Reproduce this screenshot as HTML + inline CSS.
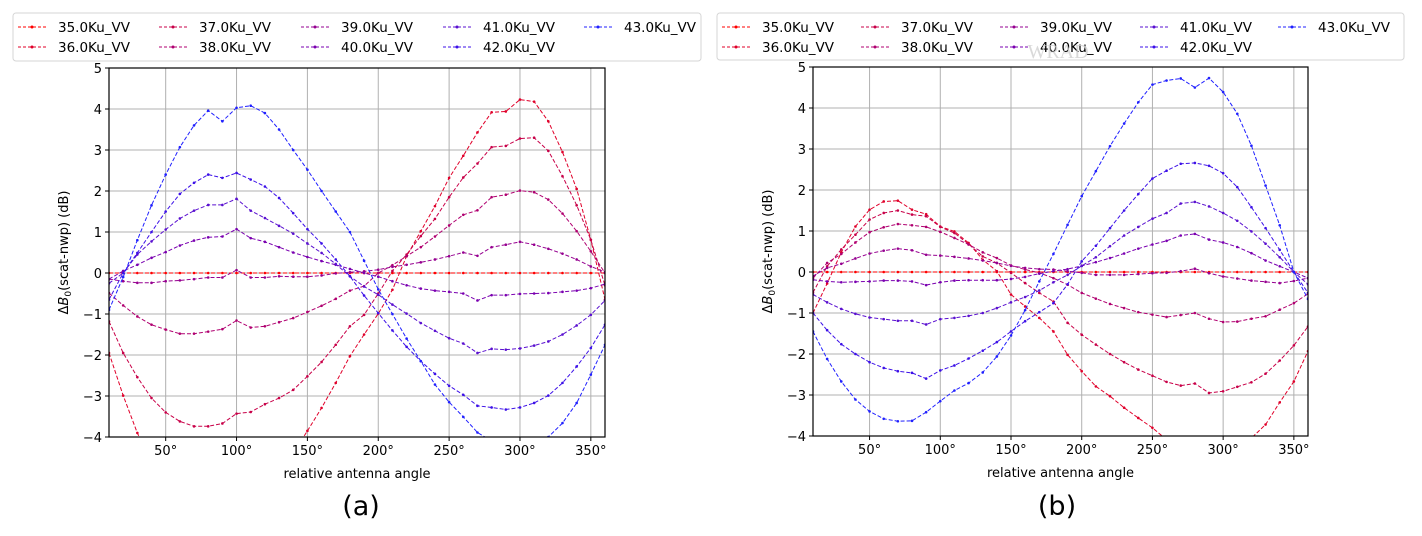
<!DOCTYPE html>
<html><head><meta charset="utf-8">
<style>
html,body{margin:0;padding:0;background:#fff;}
svg{display:block;font-family:"DejaVu Sans","Liberation Sans",sans-serif;}
</style></head>
<body>
<svg id="fig" width="1422" height="536" viewBox="0 0 1422 536" xmlns="http://www.w3.org/2000/svg">
</svg>
<script>
const angles = [10,20,30,40,50,60,70,80,90,100,110,120,130,140,150,160,170,180,190,200,210,220,230,240,250,260,270,280,290,300,310,320,330,340,350,360];
const seriesNames = ["35.0Ku_VV","36.0Ku_VV","37.0Ku_VV","38.0Ku_VV","39.0Ku_VV","40.0Ku_VV","41.0Ku_VV","42.0Ku_VV","43.0Ku_VV"];
const xTicks = [50,100,150,200,250,300,350];
const yTicks = [-4,-3,-2,-1,0,1,2,3,4,5];
const A35 = [0,0,0,0,0,0,0,0,0,0,0,0,0,0,0,0,0,0,0,0,0,0,0,0,0,0,0,0,0,0,0,0,0,0,0,0];
const A36 = [-1.95,-2.99,-3.9,-4.6,-5.1,-5.4,-5.6,-5.6,-5.5,-5.3,-5.2,-5.0,-4.8,-4.4,-3.85,-3.29,-2.68,-2.03,-1.5,-0.99,-0.41,0.41,1.02,1.63,2.32,2.86,3.43,3.92,3.94,4.23,4.18,3.7,2.95,2.05,0.81,-0.65];
const A37 = [-1.18,-1.95,-2.54,-3.05,-3.4,-3.62,-3.74,-3.74,-3.67,-3.43,-3.39,-3.2,-3.05,-2.85,-2.52,-2.17,-1.75,-1.3,-1.02,-0.5,0.05,0.45,0.9,1.32,1.85,2.33,2.67,3.07,3.1,3.28,3.3,2.98,2.36,1.65,0.81,-0.3];
const A38 = [-0.49,-0.79,-1.06,-1.26,-1.38,-1.48,-1.48,-1.43,-1.37,-1.16,-1.33,-1.3,-1.2,-1.1,-0.95,-0.8,-0.63,-0.43,-0.32,0,0.19,0.41,0.63,0.89,1.16,1.42,1.53,1.85,1.91,2.01,1.97,1.79,1.45,1.02,0.53,0.0];
const A39 = [-0.15,-0.2,-0.24,-0.24,-0.2,-0.18,-0.15,-0.11,-0.11,0.07,-0.11,-0.11,-0.08,-0.09,-0.09,-0.06,-0.01,0.02,0.04,0.08,0.15,0.2,0.26,0.33,0.41,0.5,0.42,0.63,0.69,0.76,0.69,0.59,0.47,0.33,0.16,0.02];
const A40 = [-0.15,0.05,0.2,0.37,0.51,0.67,0.79,0.87,0.89,1.07,0.85,0.76,0.63,0.5,0.39,0.29,0.2,0.1,0,-0.09,-0.2,-0.3,-0.38,-0.43,-0.46,-0.5,-0.67,-0.54,-0.54,-0.51,-0.5,-0.49,-0.46,-0.43,-0.37,-0.27];
const A41 = [-0.25,0.0,0.45,0.77,1.06,1.33,1.52,1.66,1.66,1.81,1.52,1.34,1.15,0.96,0.72,0.49,0.22,-0.08,-0.33,-0.53,-0.77,-0.99,-1.22,-1.41,-1.59,-1.72,-1.95,-1.85,-1.87,-1.84,-1.77,-1.67,-1.5,-1.28,-1.02,-0.67];
const A42 = [-0.65,0.0,0.49,1.0,1.5,1.93,2.2,2.4,2.32,2.44,2.28,2.11,1.83,1.46,1.07,0.72,0.33,-0.08,-0.55,-0.98,-1.4,-1.8,-2.15,-2.46,-2.75,-2.97,-3.24,-3.28,-3.33,-3.28,-3.17,-2.99,-2.68,-2.28,-1.83,-1.26];
const A43 = [-0.9,-0.1,0.8,1.65,2.4,3.07,3.6,3.96,3.7,4.03,4.08,3.9,3.5,3.0,2.52,2.0,1.5,1.0,0.3,-0.4,-1.0,-1.6,-2.15,-2.72,-3.15,-3.51,-3.89,-4.1,-4.3,-4.4,-4.3,-4.0,-3.66,-3.17,-2.48,-1.75];
const B35 = [0,0,0,0,0,0,0,0,0,0,0,0,0,0,0,0,0,0,0,0,0,0,0,0,0,0,0,0,0,0,0,0,0,0,0,0];
const B36 = [-1.0,-0.28,0.48,1.11,1.52,1.72,1.74,1.52,1.41,1.11,0.99,0.71,0.3,0.02,-0.55,-0.84,-1.12,-1.45,-2.02,-2.42,-2.79,-3.03,-3.31,-3.56,-3.8,-4.09,-4.3,-4.5,-4.6,-4.5,-4.3,-4.05,-3.72,-3.18,-2.67,-1.93];
const B37 = [-0.5,0.14,0.55,0.91,1.28,1.44,1.5,1.4,1.36,1.1,0.95,0.68,0.38,0.22,-0.02,-0.27,-0.51,-0.72,-1.24,-1.53,-1.77,-2.0,-2.2,-2.38,-2.53,-2.68,-2.77,-2.72,-2.95,-2.91,-2.8,-2.69,-2.48,-2.16,-1.79,-1.33];
const B38 = [-0.15,0.22,0.44,0.72,0.97,1.09,1.17,1.14,1.1,0.98,0.83,0.67,0.48,0.34,0.16,0.06,-0.02,-0.15,-0.31,-0.51,-0.65,-0.78,-0.88,-0.98,-1.04,-1.1,-1.05,-1.0,-1.14,-1.22,-1.21,-1.14,-1.08,-0.92,-0.76,-0.53];
const B39 = [-0.1,0.1,0.2,0.33,0.45,0.52,0.57,0.53,0.42,0.4,0.37,0.33,0.28,0.22,0.15,0.1,0.07,0.06,0.02,-0.02,-0.07,-0.07,-0.07,-0.05,-0.03,-0.02,0.02,0.08,-0.03,-0.11,-0.16,-0.21,-0.24,-0.27,-0.22,-0.15];
const B40 = [-0.19,-0.23,-0.25,-0.24,-0.23,-0.21,-0.21,-0.23,-0.32,-0.25,-0.21,-0.2,-0.2,-0.2,-0.17,-0.12,-0.04,0.02,0.07,0.15,0.24,0.34,0.45,0.57,0.67,0.76,0.89,0.93,0.79,0.72,0.61,0.46,0.28,0.14,0,-0.15];
const B41 = [-0.55,-0.74,-0.9,-1.02,-1.11,-1.15,-1.19,-1.19,-1.28,-1.15,-1.12,-1.07,-1.0,-0.88,-0.74,-0.61,-0.45,-0.25,-0.07,0.15,0.36,0.63,0.89,1.1,1.3,1.44,1.67,1.71,1.6,1.44,1.25,0.99,0.69,0.36,0,-0.3];
const B42 = [-1.0,-1.42,-1.76,-2.0,-2.2,-2.34,-2.42,-2.46,-2.6,-2.4,-2.28,-2.11,-1.92,-1.71,-1.45,-1.2,-0.98,-0.76,-0.3,0.26,0.64,1.07,1.5,1.9,2.28,2.47,2.64,2.66,2.59,2.41,2.07,1.58,1.07,0.54,0,-0.51];
const B43 = [-1.45,-2.12,-2.67,-3.11,-3.4,-3.58,-3.64,-3.63,-3.42,-3.15,-2.89,-2.71,-2.45,-2.06,-1.55,-0.93,-0.23,0.44,1.15,1.85,2.46,3.07,3.62,4.14,4.57,4.67,4.72,4.5,4.73,4.39,3.86,3.08,2.11,1.14,0,-0.66];

const seriesA = [A35,A36,A37,A38,A39,A40,A41,A42,A43];
const seriesB = [B35,B36,B37,B38,B39,B40,B41,B42,B43];
const colors = ["#ff0000","#e0002a","#c80048","#b00070","#960090","#7a00b0","#5a10d0","#3c10e8","#2020ff"];

const NS = "http://www.w3.org/2000/svg";
const svg = document.getElementById('fig');
function mk(tag, attrs, parent){
  const e = document.createElementNS(NS, tag);
  for (const k in attrs) e.setAttribute(k, attrs[k]);
  (parent||svg).appendChild(e);
  return e;
}

function drawPanel(id, L, R, T, B, data, legendBox, legendCols, panelLabel, panelX){
  const xMin = 10, xMax = 360, yMin = -4, yMax = 5;
  const xs = v => L + (v - xMin) / (xMax - xMin) * (R - L);
  const ys = v => B - (v - yMin) / (yMax - yMin) * (B - T);
  const g = mk('g', {});
  
  
  const clip = mk('clipPath', {id: 'clip' + id}, g);
  mk('rect', {x: L, y: T, width: R - L, height: B - T}, clip);
  const grid = mk('g', {stroke: '#b0b0b0', 'stroke-width': 1}, g);
  
  
  xTicks.forEach(t => mk('line', {x1: xs(t), x2: xs(t), y1: T, y2: B}, grid));
  yTicks.forEach(t => mk('line', {x1: L, x2: R, y1: ys(t), y2: ys(t)}, grid));
  const lines = mk('g', {'clip-path': 'url(#clip' + id + ')'}, g);
  data.forEach((arr, i) => {
    const pts = arr.map((v, j) => xs(angles[j]).toFixed(1) + ',' + ys(v).toFixed(1)).join(' ');
    const sg = mk('g', {}, lines);
    
    
    mk('polyline', {points: pts, fill: 'none', stroke: colors[i], 'stroke-width': 1, 'stroke-dasharray': '4,2'}, sg);
    arr.forEach((v, j) => {
      const c = mk('circle', {cx: xs(angles[j]), cy: ys(v), r: 1.3, fill: colors[i]}, sg);
      
      
    });
  });
  const fr = mk('rect', {x: L, y: T, width: R - L, height: B - T, fill: 'none', stroke: '#000', 'stroke-width': 1.2}, g);
  
  
  xTicks.forEach(t => {
    mk('line', {x1: xs(t), x2: xs(t), y1: B, y2: B + 4, stroke: '#000'}, g);
    const tx = mk('text', {x: xs(t), y: B + 18, 'font-size': 13, 'text-anchor': 'middle'}, g);
    tx.textContent = t + '°';
    
    
  });
  yTicks.forEach(t => {
    mk('line', {x1: L - 4, x2: L, y1: ys(t), y2: ys(t), stroke: '#000'}, g);
    const tx = mk('text', {x: L - 7, y: ys(t) + 5, 'font-size': 13, 'text-anchor': 'end'}, g);
    tx.textContent = t < 0 ? '\u2212' + Math.abs(t) : String(t);
    
    
  });
  const xl = mk('text', {x: (L + R) / 2, y: B + 41, 'font-size': 13, 'text-anchor': 'middle'}, g);
  xl.textContent = 'relative antenna angle';
  
  
  const yl = mk('text', {x: 0, y: 0, 'font-size': 13, 'text-anchor': 'middle', transform: 'translate(' + (L - 41) + ',' + ((T + B) / 2) + ') rotate(-90)'}, g);
  yl.innerHTML = '\u0394<tspan font-style="italic">B</tspan><tspan font-size="9" dy="3">0</tspan><tspan dy="-3">(scat-nwp) (dB)</tspan>';
  
  
  const pl = mk('text', {x: panelX, y: 515, 'font-size': 27, 'text-anchor': 'middle'}, g);
  pl.textContent = panelLabel;
  
  
  const lg = mk('g', {}, g);
  
  
  mk('rect', {x: legendBox[0], y: legendBox[1], width: legendBox[2], height: legendBox[3], rx: 3, fill: '#fff', stroke: '#d6d6d6'}, lg);
  seriesNames.forEach((nm, i) => {
    const col = Math.floor(i / 2), row = i % 2;
    const hx = legendCols[col], hy = legendBox[1] + 14 + row * 20;
    const e = mk('g', {}, lg);
    
    
    mk('line', {x1: hx, x2: hx + 28, y1: hy, y2: hy, stroke: colors[i], 'stroke-width': 1, 'stroke-dasharray': '3,2'}, e);
    mk('circle', {cx: hx + 14, cy: hy, r: 1.5, fill: colors[i]}, e);
    const t = mk('text', {x: hx + 40, y: hy + 5, 'font-size': 13.5}, e);
    t.textContent = nm;
  });
}

drawPanel('a', 109, 605, 68, 437, seriesA, [13, 13, 688, 48], [18, 159, 301, 443, 584], '(a)', 361);
drawPanel('b', 813, 1308, 67, 436, seriesB, [717, 13, 687, 47], [722, 861, 1000, 1140, 1278], '(b)', 1057);

const wm = mk('text', {x: 1058, y: 58, 'font-size': 20, fill: '#d0d0d0', 'text-anchor': 'middle', 'font-family': 'Liberation Serif, serif', opacity: 0.8});
wm.textContent = 'WRAD';


</script>
</body></html>
